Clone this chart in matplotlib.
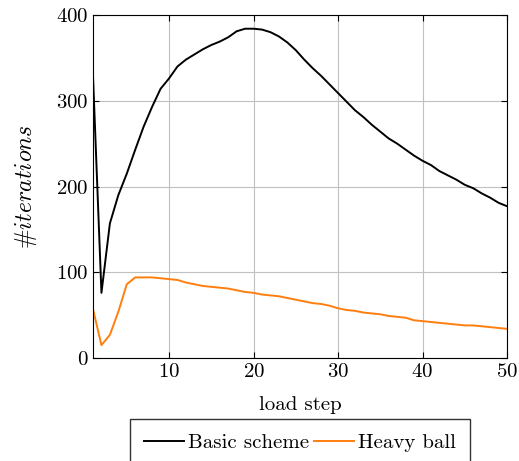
"""Iteration counts per load step: basic scheme vs heavy ball"""
import matplotlib
matplotlib.use("Agg")
import matplotlib.pyplot as plt
import numpy as np

plt.rcParams["font.family"] = "serif"
plt.rcParams["font.serif"] = ["cmr10", "DejaVu Serif"]
plt.rcParams["mathtext.fontset"] = "cm"
plt.rcParams["axes.formatter.use_mathtext"] = True

steps = np.arange(1, 51)
basic = [329, 76, 157, 190, 215, 243, 270, 293, 314, 326,
         340, 348, 354, 360, 365, 369, 374, 381, 384, 384,
         383, 380, 375, 368, 359, 348, 338, 329, 319, 309,
         299, 289, 281, 272, 264, 256, 250, 243, 236, 230,
         225, 218, 213, 208, 202, 198, 192, 187, 181, 177]
heavy = [57, 15, 27, 54, 86, 94, 94, 94, 93, 92,
         91, 88, 86, 84, 83, 82, 81, 79, 77, 76,
         74, 73, 72, 70, 68, 66, 64, 63, 61, 58,
         56, 55, 53, 52, 51, 49, 48, 47, 44, 43,
         42, 41, 40, 39, 38, 38, 37, 36, 35, 34]

fig = plt.figure(figsize=(5.19, 4.61), dpi=100)
ax = fig.add_axes([93 / 519, 1 - 358 / 461, 414 / 519, 343 / 461])

ax.plot(steps, basic, color="black", lw=1.4, label="Basic scheme")
ax.plot(steps, heavy, color="#ff7f0e", lw=1.4, label="Heavy ball")

ax.set_xlim(1, 50)
ax.set_ylim(0, 400)
ax.set_xticks([10, 20, 30, 40, 50])
ax.set_yticks([0, 100, 200, 300, 400])
ax.grid(True, color="#c0c0c0", lw=0.8)
ax.tick_params(direction="in", top=True, right=True, labelsize=15, length=4)
for s in ax.spines.values():
    s.set_linewidth(0.8)

ax.set_xlabel("load step", fontsize=15, labelpad=11)
ax.set_ylabel(r"#$iterations$", fontsize=17, labelpad=12)

ax.legend(loc="upper center", bbox_to_anchor=(0.5, -0.178), ncol=2,
          fontsize=15, frameon=True, fancybox=False, edgecolor="black",
          handlelength=1.9, handletextpad=0.2, columnspacing=0.25,
          borderpad=0.7, borderaxespad=0)

fig.savefig("out.png", dpi=100)
plt.close()
